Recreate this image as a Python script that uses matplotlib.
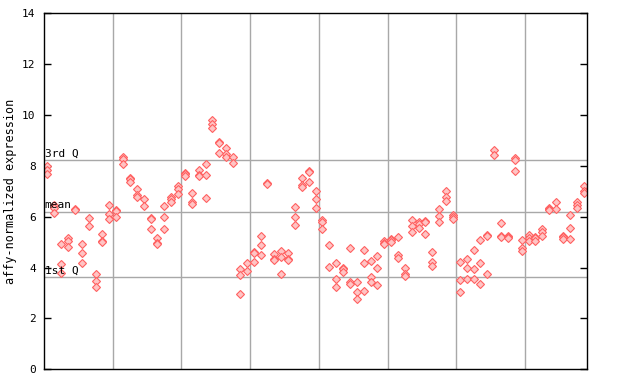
import matplotlib
matplotlib.use('Agg')
import matplotlib.pyplot as plt

# replicate values per sample
samples = [
	[8.0, 7.85, 7.7], [6.45, 6.35, 6.15], [4.92, 4.13, 3.78], [5.16, 5.06, 4.8],
	[6.31, 6.28], [4.92, 4.57, 4.17], [5.94, 5.63], [3.74, 3.48, 3.23],
	[5.31, 5.05, 5.02], [6.47, 6.11, 5.91], [6.27, 6.22, 6.01], [8.37, 8.27, 8.08],
	[7.54, 7.5, 7.35], [7.08, 6.86, 6.77], [6.7, 6.43], [5.94, 5.9, 5.51],
	[5.16, 4.98, 4.94], [6.43, 5.98, 5.51], [6.77, 6.69, 6.6], [7.2, 7.08, 6.9],
	[7.72, 7.68, 7.6], [6.93, 6.6, 6.5], [7.83, 7.64, 7.6], [8.07, 7.64, 6.73],
	[9.79, 9.66, 9.49], [8.94, 8.9, 8.5], [8.7, 8.46, 8.37], [8.37, 8.11],
	[3.94, 3.7, 2.95], [4.17, 3.86], [4.63, 4.57, 4.24], [5.24, 4.88, 4.49],
	[7.34, 7.3], [4.53, 4.35, 4.3], [4.65, 4.41, 3.74], [4.57, 4.35, 4.3],
	[6.38, 5.98, 5.67], [7.52, 7.26, 7.17], [7.82, 7.78, 7.37], [7.01, 6.69, 6.34],
	[5.87, 5.8, 5.51], [4.88, 4.02], [4.17, 3.54, 3.23], [3.98, 3.93, 3.84],
	[4.76, 3.45, 3.35], [3.45, 3.03, 2.76], [4.68, 4.2, 3.07], [4.25, 3.62, 3.45],
	[4.45, 3.98, 3.31], [5.04, 4.96, 4.92], [5.12, 5.07, 5.02], [5.2, 4.51, 4.37],
	[3.98, 3.76, 3.67], [5.88, 5.63, 5.39], [5.79, 5.7, 5.57], [5.83, 5.79, 5.31],
	[4.6, 4.21, 4.07], [6.3, 6.02, 5.79], [7.01, 6.77, 6.63], [6.06, 6.0, 5.9],
	[4.21, 3.5, 3.03], [4.33, 3.98, 3.54], [4.68, 3.94, 3.54], [5.08, 4.17, 3.35],
	[5.28, 5.23, 3.74], [8.63, 8.42], [5.76, 5.24, 5.2], [5.25, 5.22, 5.16],
	[8.31, 8.24, 7.8], [5.08, 4.76, 4.67], [5.28, 5.16, 5.04], [5.22, 5.18, 5.06],
	[5.51, 5.39, 5.24], [6.36, 6.32, 6.28], [6.57, 6.3], [5.26, 5.22, 5.12],
	[6.06, 5.55, 5.12], [6.57, 6.46, 6.34], [7.22, 7.01, 6.93],
]
group_edges = [10, 20, 30, 40, 50, 60, 70]
q1, mean, q3 = 3.62, 6.2, 8.23
yticks = [0, 2, 4, 6, 8, 10, 12, 14]

xs, ys = [], []
for i, vals in enumerate(samples):
	for v in vals:
		xs.append(i + 0.5)
		ys.append(v)

fig = plt.figure(figsize = (6.4, 3.84), dpi = 100)
ax = fig.add_axes([0.0688, 0.0383, 0.8484, 0.9267])
mono = 'DejaVu Sans Mono'

for g in group_edges:
	ax.axvline(g, color = '#a8a8a8', lw = 1.0, zorder = 1)
for val, lab in [(q3, '3rd Q'), (mean, 'mean'), (q1, '1st Q')]:
	ax.axhline(val, color = '#a8a8a8', lw = 1.0, zorder = 1)
	ax.text(0.1, val + 0.05, lab, family = mono, fontsize = 8, va = 'bottom', ha = 'left', zorder = 3)

ax.plot(xs, ys, ls = 'none', marker = 'D', ms = 4.0, mfc = '#ffc4c4', mec = '#ff6060', mew = 0.8, zorder = 2)

ax.set_xlim(0, len(samples))
ax.set_ylim(0, 14)
ax.set_xticks([])
ax.set_yticks(yticks)
ax.set_yticklabels([str(t) for t in yticks], family = mono, fontsize = 8)
ax.tick_params(axis = 'y', direction = 'in', length = 5, right = True, width = 1, pad = 6)
ax.set_ylabel('affy-normalized expression', family = mono, fontsize = 8.5, labelpad = 4)
for s in ax.spines.values():
	s.set_linewidth(1.0)

fig.savefig('out.png', dpi = 100)
